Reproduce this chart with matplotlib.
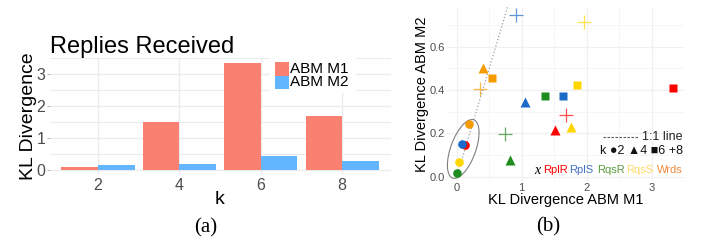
import matplotlib
matplotlib.use('Agg')
import matplotlib.pyplot as plt
import matplotlib.transforms as mtransforms
from matplotlib.patches import Ellipse, Rectangle
from matplotlib.lines import Line2D

plt.rcParams['font.family'] = ['Liberation Sans', 'DejaVu Sans']

# panel (a): replies received
k = [2, 4, 6, 8]
kl_m1 = [0.10, 1.51, 3.34, 1.70]
kl_m2 = [0.14, 0.19, 0.42, 0.28]

# panel (b): KL divergence of M1 (x) vs M2 (y), one value per k
measures = ['RplR', 'RplS', 'RqsR', 'RqsS', 'Wrds']
x_RplR = [0.12, 1.51, 3.33, 1.69]
y_RplR = [0.145, 0.215, 0.408, 0.285]
x_RplS = [0.08, 1.05, 1.64, 0.91]
y_RplS = [0.151, 0.346, 0.374, 0.746]
x_RqsR = [0.01, 0.82, 1.36, 0.74]
y_RqsR = [0.018, 0.077, 0.374, 0.197]
x_RqsS = [0.04, 1.76, 1.85, 1.96]
y_RqsS = [0.066, 0.228, 0.423, 0.715]
x_Wrds = [0.19, 0.40, 0.54, 0.36]
y_Wrds = [0.242, 0.503, 0.457, 0.403]

W, H = 706, 241
fig = plt.figure(figsize=(W / 100, H / 100), dpi=100)


def fx(p):
    return p / W


def fy(p):
    return 1 - p / H


# ---------------- (a) ----------------
ax1 = fig.add_axes([fx(50), fy(175), (391 - 50) / W, (175 - 58) / H])
ax1.bar([v - 0.45 for v in k], kl_m1, width=0.9, color='#FA8072', zorder=2)
ax1.bar([v + 0.45 for v in k], kl_m2, width=0.9, color='#62B6FF', zorder=2)
ax1.set_xlim(0.82, 9.2)
ax1.set_ylim(-0.167, 3.51)
ax1.set_xticks(k)
ax1.set_yticks([0, 1, 2, 3])
ax1.set_yticks([0.5, 1.5, 2.5, 3.5], minor=True)
ax1.grid(True, which='major', color='#ebebeb', lw=1.0)
ax1.grid(True, which='minor', axis='y', color='#ebebeb', lw=0.8)
ax1.set_axisbelow(True)
for s in ax1.spines.values():
    s.set_visible(False)
ax1.tick_params(axis='x', length=0, pad=2, labelsize=11.5, labelcolor='#4d4d4d')
ax1.tick_params(axis='y', length=2, color='#bbbbbb', pad=1.5, labelsize=11.5, labelcolor='#4d4d4d')
ax1.tick_params(which='minor', length=0)

fig.text(fx(50), fy(53.5), 'Replies Received', fontsize=17, va='baseline', ha='left')
fig.text(fx(28.5), fy(116), 'KL Divergence', fontsize=14, rotation=90, ha='center', va='center')
fig.text(fx(220), fy(200), 'k', fontsize=14, ha='center', va='center')

# legend of (a)
fig.add_artist(Rectangle((fx(270), fy(93)), 86 / W, 36 / H, transform=fig.transFigure,
                         facecolor='white', edgecolor='none'))
fig.add_artist(Rectangle((fx(275), fy(75.7)), 13.5 / W, 13.4 / H, transform=fig.transFigure,
                         facecolor='#FA8072', edgecolor='none'))
fig.add_artist(Rectangle((fx(275), fy(89.3)), 13.5 / W, 13.6 / H, transform=fig.transFigure,
                         facecolor='#62B6FF', edgecolor='none'))
fig.text(fx(290), fy(69), 'ABM M1', fontsize=11, va='center', ha='left')
fig.text(fx(290), fy(82.5), 'ABM M2', fontsize=11, va='center', ha='left')

fig.text(fx(206), fy(228), '(a)', fontsize=15, family='Liberation Serif', ha='center', va='center')

# ---------------- (b) ----------------
ax2 = fig.add_axes([fx(446.6), fy(180.6), 237.4 / W, 173.4 / H])
ax2.set_xlim(-0.156, 3.50)
ax2.set_ylim(-0.018, 0.782)
ax2.set_xticks([0, 1, 2, 3])
ax2.set_xticks([0.5, 1.5, 2.5, 3.5], minor=True)
ax2.set_yticks([0.0, 0.2, 0.4, 0.6])
ax2.set_yticks([0.1, 0.3, 0.5, 0.7], minor=True)
ax2.set_yticklabels(['0.0', '0.2', '0.4', '0.6'])
ax2.grid(True, which='major', color='#f0f0f0', lw=0.9)
ax2.grid(True, which='minor', color='#f5f5f5', lw=0.6)
ax2.set_axisbelow(True)
for s in ax2.spines.values():
    s.set_visible(False)
ax2.tick_params(which='both', length=0)
ax2.tick_params(axis='x', pad=1.5, labelsize=8, labelcolor='#4d4d4d')
ax2.tick_params(axis='y', pad=1.5, labelsize=8, labelcolor='#4d4d4d')

ax2.plot([0, 1], [0, 1], ls=':', color='#a0a0a0', lw=0.9, zorder=1)

mark_color = ['#FF0000', '#1B6AC9', '#1E8C1E', '#FFD700', '#F59B00']
xs = [x_RplR, x_RplS, x_RqsR, x_RqsS, x_Wrds]
ys = [y_RplR, y_RplS, y_RqsR, y_RqsS, y_Wrds]
for i in range(len(measures)):
    c = mark_color[i]
    ax2.plot(xs[i][0], ys[i][0], 'o', ms=6.2, color=c, mec='none', zorder=3)
    ax2.plot(xs[i][1], ys[i][1], '^', ms=7.5, color=c, mec='none', zorder=3)
    ax2.plot(xs[i][2], ys[i][2], 's', ms=6.2, color=c, mec='none', zorder=3)
    ax2.plot(xs[i][3], ys[i][3], '+', ms=10, mew=0.9, color=c, alpha=0.7, zorder=3)

# ellipse around the k=2 points
tr = fig.dpi_scale_trans + mtransforms.ScaledTranslation(0.10, 0.128, ax2.transData)
ax2.add_patch(Ellipse((0, 0), 0.62, 0.25, angle=70, transform=tr, fill=False,
                      edgecolor='#808080', lw=0.8, clip_on=False))

fig.text(fx(566), fy(200), 'KL Divergence ABM M1', fontsize=10.5, ha='center', va='center')
fig.text(fx(422), fy(94), 'KL Divergence ABM M2', fontsize=10.5, rotation=90, ha='center', va='center')

# key of (b)
fig.add_artist(Line2D([fx(603), fx(638)], [fy(137), fy(137)], transform=fig.transFigure,
                      ls=(0, (2.2, 1.4)), color='#555555', lw=0.8))
fig.text(fx(683), fy(137), '1:1 line', fontsize=9, ha='right', va='center', color='#222222')
fig.text(fx(683), fy(150.5), 'k \u25cf2 \u25b24 \u25a06 +8', fontsize=9, ha='right', va='center',
         color='#111111')
fig.text(fx(537), fy(170), 'x', fontsize=10, family='Liberation Serif', style='italic',
         ha='center', va='center')
word_color = ['#FF0000', '#4472C4', '#5B9B3E', '#FFD966', '#F08A3C']
word_x = [556, 581, 610.5, 639.5, 669.5]
for i in range(len(measures)):
    fig.text(fx(word_x[i]), fy(170), measures[i], fontsize=8, color=word_color[i],
             ha='center', va='center')

fig.text(fx(548), fy(227), '(b)', fontsize=15, family='Liberation Serif', ha='center', va='center')

fig.savefig('out.png', dpi=100)
